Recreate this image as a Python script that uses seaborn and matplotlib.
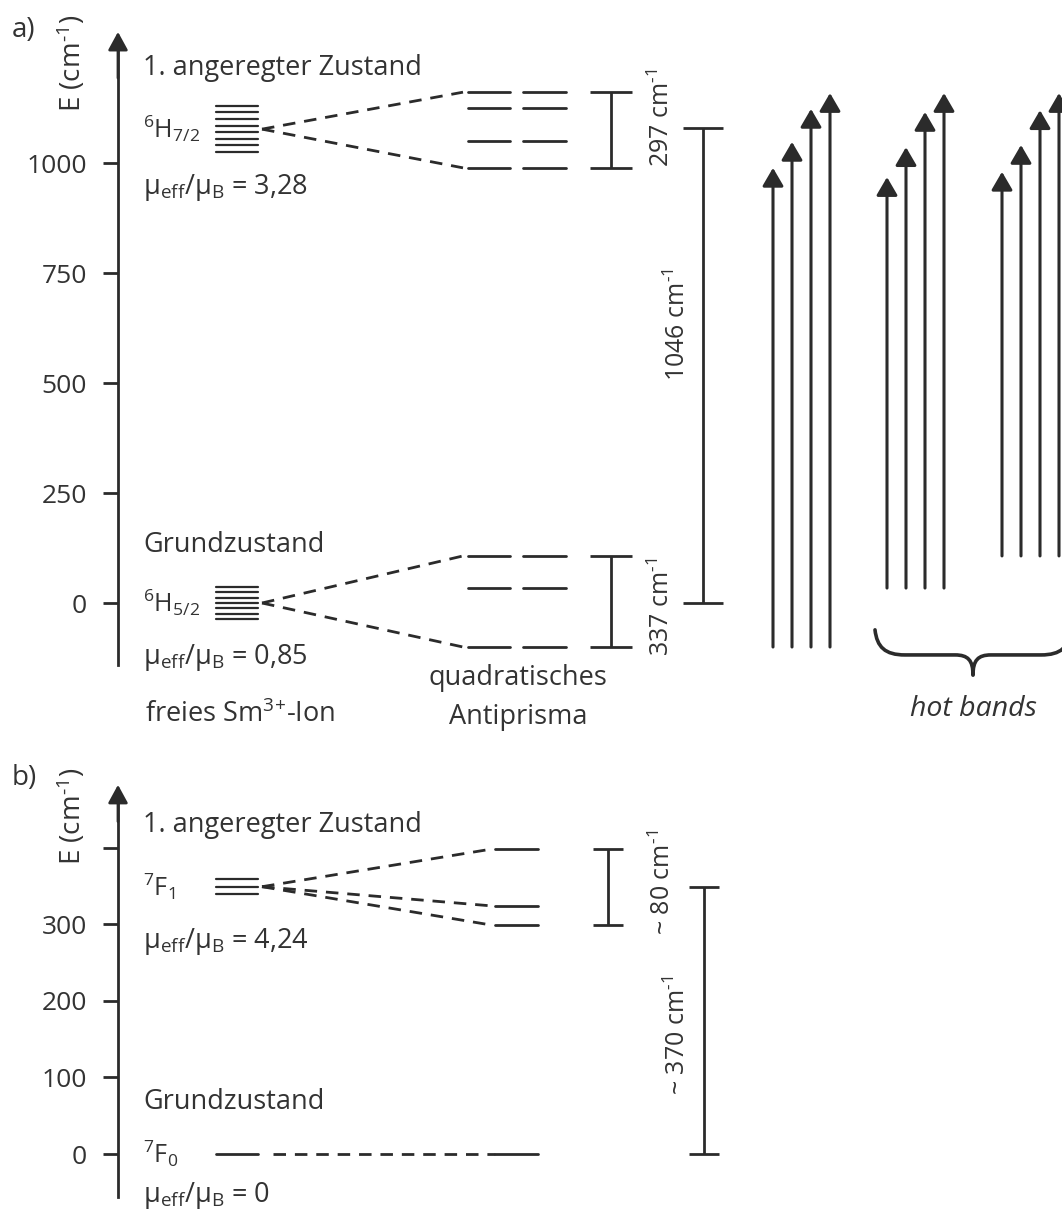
import numpy as np
import pandas as pd
import matplotlib
matplotlib.use("Agg")
import matplotlib.pyplot as plt
import seaborn as sns
from matplotlib.path import Path
from matplotlib.patches import PathPatch

# ------------------------------------------------------------------ data (cm^-1)
a_ticks = [0, 250, 500, 750, 1000]
a_tick_labels = ["0", "250", "500", "750", "1000"]
a_free_upper = [1130, 1115, 1100, 1085, 1070, 1055, 1040, 1025]   # 6H7/2 (free ion)
a_free_lower = [36, 24, 12, 0, -12, -24, -36]                       # 6H5/2 (free ion)
a_free_centers = [1077, 0]
a_cf_upper = [1161, 1125, 1050, 989]                                # square antiprism
a_cf_lower = [107, 34, -100]
a_split_upper = [989, 1161]
a_split_lower = [-100, 107]
a_gap = [0, 1079]
a_split_upper_label = "297"
a_split_lower_label = "337"
a_gap_label = "1046"
hot_start = [-100, 34, 107]
hot_end = [[989, 1048, 1123, 1159],
           [968, 1036, 1116, 1159],
           [980, 1041, 1120, 1159]]

b_ticks = [0, 100, 200, 300, 400]
b_tick_labels = ["0", "100", "200", "300", ""]
b_free_upper = [359, 349, 340]                                      # 7F1
b_free_centers = [349, 0]
b_cf_upper = [398, 324, 299]
b_cf_lower = [0]
b_split_upper = [299, 398]
b_gap = [0, 349]
b_split_upper_label = "~ 80"
b_gap_label = "~ 370"

# ------------------------------------------------------------------ layout
W, H = 1062, 1212
C = "#2b2b2b"
TXT = "#333333"
AXIS_X = 118
STACK_X = (216, 258)
FAN_X0 = 262
TXT_X = 143
FS = 19.5
FS_SYM = 18
FS_ROT = 18
INV = "$^{\u2010 1}$"   # superscript "-1" with a hyphen

sns.set_theme(style="white")
plt.rcParams["font.family"] = ["Open Sans", "DejaVu Sans"]
plt.rcParams["mathtext.fontset"] = "custom"
plt.rcParams["mathtext.rm"] = "Open Sans"
plt.rcParams["mathtext.it"] = "Open Sans:italic"
plt.rcParams["mathtext.bf"] = "Open Sans:bold"
plt.rcParams["mathtext.default"] = "regular"
plt.rcParams["text.color"] = TXT

fig = plt.figure(figsize=(W / 100, H / 100), dpi=100)
axA = fig.add_axes([0, 467 / H, 1, 745 / H])
axB = fig.add_axes([0, 0, 1, 467 / H])
axA.set_xlim(0, W); axA.set_ylim(-322.7, 1370.5)
axB.set_xlim(0, W); axB.set_ylim(-75.7, 534)


def style_axis(ax, ticks, labels, lo, hi, arrow_len):
    for s in ["top", "right", "bottom"]:
        ax.spines[s].set_visible(False)
    ax.spines["left"].set_position(("data", AXIS_X))
    ax.spines["left"].set_bounds(lo, hi - arrow_len * 0.5)
    ax.spines["left"].set_color(C)
    ax.spines["left"].set_linewidth(2)
    ax.set_xticks([])
    ax.set_yticks(ticks)
    ax.set_yticklabels(labels)
    ax.tick_params(axis="y", direction="out", length=11, width=2, color=C,
                   labelsize=19, pad=11.5, labelcolor=TXT, left=True)
    ax.annotate("", xy=(AXIS_X, hi), xytext=(AXIS_X, hi - arrow_len * 3),
                arrowprops=dict(arrowstyle="-|>,head_length=0.55,head_width=0.3",
                                mutation_scale=20, lw=2, color=C,
                                shrinkA=0, shrinkB=0))


def segs_df(levels, x0, x1, tag):
    rows = []
    for i, e in enumerate(levels):
        rows.append(dict(x=x0, E=e, seg=f"{tag}{i}"))
        rows.append(dict(x=x1, E=e, seg=f"{tag}{i}"))
    return pd.DataFrame(rows)


def draw_levels(ax, levels, x0, x1, tag, lw=2.0):
    df = segs_df(levels, x0, x1, tag)
    sns.lineplot(data=df, x="x", y="E", units="seg", estimator=None,
                 color=C, lw=lw, ax=ax, legend=False, sort=False)


def draw_fan(ax, y0, targets, x1, tag):
    rows = []
    for i, t in enumerate(targets):
        rows.append(dict(x=FAN_X0, E=y0, seg=f"{tag}{i}"))
        rows.append(dict(x=x1, E=t, seg=f"{tag}{i}"))
    df = pd.DataFrame(rows)
    sns.lineplot(data=df, x="x", y="E", units="seg", estimator=None,
                 color=C, lw=2, ax=ax, legend=False, sort=False,
                 dashes=False, linestyle=(0, (4.5, 3.2)))


def draw_bar(ax, x, lo, hi, half):
    ax.vlines(x, lo, hi, color=C, lw=2)
    ax.hlines([lo, hi], x - half, x + half, color=C, lw=2)


# ================================================================= panel a
style_axis(axA, a_ticks, a_tick_labels, -141, 1298, 35)
draw_levels(axA, a_free_upper, *STACK_X, "fu", lw=1.6)
draw_levels(axA, a_free_lower, *STACK_X, "fl", lw=1.6)
for gx0, gx1 in [(468, 510), (523, 566)]:
    draw_levels(axA, a_cf_upper, gx0, gx1, f"cu{gx0}")
    draw_levels(axA, a_cf_lower, gx0, gx1, f"cl{gx0}")
draw_fan(axA, a_free_centers[0], [a_cf_upper[0], a_cf_upper[-1]], 463, "fa")
draw_fan(axA, a_free_centers[1], [a_cf_lower[0], a_cf_lower[-1]], 463, "fb")

draw_bar(axA, 611, *a_split_upper, 21)
draw_bar(axA, 611, *a_split_lower, 21)
draw_bar(axA, 703, *a_gap, 20)
axA.text(662, 1103, a_split_upper_label + " cm" + INV, rotation=90,
         ha="center", va="center", fontsize=FS_ROT)
axA.text(662, -9, a_split_lower_label + " cm" + INV, rotation=90,
         ha="center", va="center", fontsize=FS_ROT)
axA.text(678, 634, a_gap_label + " cm" + INV, rotation=90,
         ha="center", va="center", fontsize=FS_ROT)

hot_x = [[773, 792, 811, 830], [887, 906, 925, 944], [1002, 1021, 1040, 1059]]
for g, (s, ends) in enumerate(zip(hot_start, hot_end)):
    for x, e in zip(hot_x[g], ends):
        axA.annotate("", xy=(x, e), xytext=(x, s),
                     arrowprops=dict(arrowstyle="-|>,head_length=0.55,head_width=0.32",
                                     mutation_scale=20, lw=2.2, color=C,
                                     shrinkA=0, shrinkB=0))

# curly brace under hot bands
verts = [(875, -61), (877, -100), (885, -118), (905, -118),
         (955, -118),
         (968, -118), (973, -130), (973, -164),
         (973, -130), (978, -118), (991, -118),
         (1041, -118),
         (1061, -118), (1069, -100), (1071, -61)]
codes = [Path.MOVETO, Path.CURVE4, Path.CURVE4, Path.CURVE4,
         Path.LINETO,
         Path.CURVE4, Path.CURVE4, Path.CURVE4,
         Path.CURVE4, Path.CURVE4, Path.CURVE4,
         Path.LINETO,
         Path.CURVE4, Path.CURVE4, Path.CURVE4]
axA.add_patch(PathPatch(Path(verts, codes), fill=False, lw=2.6, ec=C,
                        clip_on=False, capstyle="round", joinstyle="round"))
axA.text(973, -240, "hot bands", style="italic", ha="center", va="center",
         fontsize=20.5)

axA.text(12, 1302, "a)", ha="left", va="center", fontsize=20)
axA.text(72, 1227, "E (cm" + INV + ")", rotation=90, ha="center", va="center",
         fontsize=20)
axA.text(TXT_X, 1216, "1. angeregter Zustand", ha="left", va="center", fontsize=FS)
axA.text(TXT_X, 1077, r"$^{6}$H$_{7/2}$", ha="left", va="center", fontsize=FS_SYM)
axA.text(TXT_X, 945, r"μ$_{eff}$/μ$_{B}$ = 3,28", ha="left", va="center", fontsize=FS)
axA.text(TXT_X, 132, "Grundzustand", ha="left", va="center", fontsize=FS)
axA.text(TXT_X, 0, r"$^{6}$H$_{5/2}$", ha="left", va="center", fontsize=FS_SYM)
axA.text(TXT_X, -123, r"μ$_{eff}$/μ$_{B}$ = 0,85", ha="left", va="center", fontsize=FS)
axA.text(TXT_X + 2, -255, r"freies Sm$^{3}$$^{+}$-Ion", ha="left", va="center",
         fontsize=FS)
axA.text(518, -170, "quadratisches", ha="center", va="center", fontsize=FS)
axA.text(518, -259, "Antiprisma", ha="center", va="center", fontsize=FS)

# ================================================================= panel b
style_axis(axB, b_ticks, b_tick_labels, -56, 482, 16)
draw_levels(axB, b_free_upper, *STACK_X, "bu", lw=1.6)
draw_levels(axB, [b_free_centers[1]], *STACK_X, "bg")
draw_levels(axB, b_cf_upper, 495, 538, "bcu")
draw_levels(axB, b_cf_lower, 495, 538, "bcl")
draw_fan(axB, b_free_centers[0], b_cf_upper, 491, "bf")
axB.hlines(b_free_centers[1], 273, 495, color=C, lw=2, linestyles=(0, (4.5, 3.2)))

draw_bar(axB, 608, *b_split_upper, 15)
draw_bar(axB, 704, *b_gap, 15)
axB.text(663, 355, b_split_upper_label + " cm" + INV, rotation=90,
         ha="center", va="center", fontsize=FS_ROT)
axB.text(678, 155, b_gap_label + " cm" + INV, rotation=90,
         ha="center", va="center", fontsize=FS_ROT)

axB.text(12, 491, "b)", ha="left", va="center", fontsize=20)
axB.text(72, 441, "E (cm" + INV + ")", rotation=90, ha="center", va="center",
         fontsize=20)
axB.text(TXT_X, 430, "1. angeregter Zustand", ha="left", va="center", fontsize=FS)
axB.text(TXT_X, 349, r"$^{7}$F$_{1}$", ha="left", va="center", fontsize=FS_SYM)
axB.text(TXT_X, 277, r"μ$_{eff}$/μ$_{B}$ = 4,24", ha="left", va="center", fontsize=FS)
axB.text(TXT_X, 68, "Grundzustand", ha="left", va="center", fontsize=FS)
axB.text(TXT_X, 0, r"$^{7}$F$_{0}$", ha="left", va="center", fontsize=FS_SYM)
axB.text(TXT_X, -54, r"μ$_{eff}$/μ$_{B}$ = 0", ha="left", va="center", fontsize=FS)

for ax in (axA, axB):
    ax.set_xlabel("")
    ax.set_ylabel("")
    ax.set_facecolor("white")
    ax.patch.set_alpha(0)

fig.savefig("out.png", dpi=100, facecolor="white")
